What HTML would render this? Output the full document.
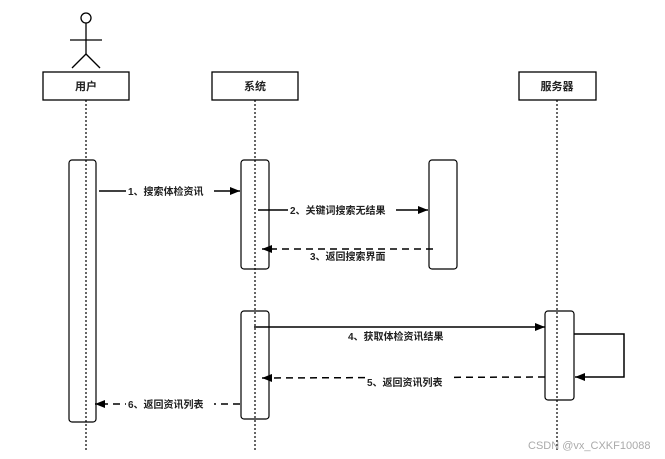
<!DOCTYPE html>
<html><head><meta charset="utf-8"><style>
html,body{margin:0;padding:0;background:#fff;width:665px;height:459px;overflow:hidden}
text{font-family:"Liberation Sans","Noto Sans CJK SC",sans-serif;font-size:10px;fill:#222;font-weight:bold}
</style></head><body>
<svg width="665" height="459" xmlns="http://www.w3.org/2000/svg">
<defs><marker id="a" markerWidth="10" markerHeight="8" refX="10" refY="4" orient="auto" markerUnits="userSpaceOnUse"><path d="M0,0 L10,4 L0,8 z" fill="#000"/></marker></defs>
<g stroke="#000" fill="none" stroke-width="1.3">
<circle cx="86" cy="18" r="5"/>
<line x1="86" y1="23" x2="86" y2="54"/><line x1="70" y1="40" x2="102" y2="40"/>
<line x1="86" y1="54" x2="72" y2="68"/><line x1="86" y1="54" x2="100" y2="68"/>
<rect x="43" y="72" width="86" height="28" fill="#fff"/>
<rect x="212" y="72" width="86" height="28" fill="#fff"/>
<rect x="519" y="72" width="77" height="28" fill="#fff"/>
</g>
<g stroke="#000" stroke-width="1.2" stroke-dasharray="2,2">
<line x1="86" y1="100" x2="86" y2="450"/><line x1="255" y1="100" x2="255" y2="450"/><line x1="557" y1="100" x2="557" y2="450"/>
</g>
<g stroke="#000" fill="none" stroke-width="1.2">
<rect x="69" y="160" width="27" height="262" rx="3"/>
<rect x="241" y="160" width="28" height="109" rx="3"/>
<rect x="429" y="160" width="28" height="109" rx="3"/>
<rect x="241" y="311" width="28" height="108" rx="3"/>
<rect x="545" y="311" width="29" height="89" rx="3"/>
</g>
<g stroke="#000" stroke-width="1.5" fill="none">
<line x1="99" y1="191" x2="240" y2="191" marker-end="url(#a)"/>
<line x1="258" y1="210" x2="428" y2="210" marker-end="url(#a)"/>
<line x1="433" y1="249" x2="262" y2="249" stroke-dasharray="7,5" marker-end="url(#a)"/>
<line x1="254" y1="327" x2="545" y2="327" marker-end="url(#a)"/>
<polyline points="574,334 624,334 624,377 575,377" marker-end="url(#a)"/>
<line x1="545" y1="377" x2="262" y2="378" stroke-dasharray="7,5" marker-end="url(#a)"/>
<line x1="240" y1="404" x2="95" y2="404" stroke-dasharray="7,5" marker-end="url(#a)"/>
</g>
<g>
<rect x="126" y="184" width="88" height="14" fill="#fff"/>
<text x="128" y="195">1、搜索体检资讯</text>
<rect x="288" y="203" width="108" height="14" fill="#fff"/>
<text x="290" y="214">2、关键词搜索无结果</text>
<text x="310" y="260">3、返回搜索界面</text>
<text x="348" y="340">4、获取体检资讯结果</text>
<rect x="365" y="372" width="84" height="14" fill="#fff"/>
<text x="367" y="386">5、返回资讯列表</text>
<rect x="126" y="397" width="88" height="14" fill="#fff"/>
<text x="128" y="408">6、返回资讯列表</text>
<text x="86" y="90" text-anchor="middle" style="font-size:11px">用户</text>
<text x="255" y="90" text-anchor="middle" style="font-size:11px">系统</text>
<text x="557" y="90" text-anchor="middle" style="font-size:11px">服务器</text>
<text x="528" y="449" style="font-size:11px;fill:#aaa;font-weight:normal">CSDN @vx_CXKF10088</text>
</g>
</svg>
</body></html>
